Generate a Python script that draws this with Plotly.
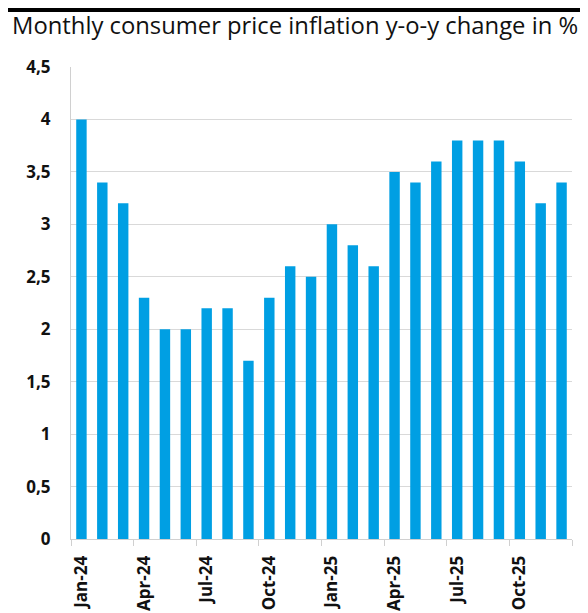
import plotly.graph_objects as go

months = ["Jan-24", "Feb-24", "Mar-24", "Apr-24", "May-24", "Jun-24", "Jul-24", "Aug-24",
          "Sep-24", "Oct-24", "Nov-24", "Dec-24", "Jan-25", "Feb-25", "Mar-25", "Apr-25",
          "May-25", "Jun-25", "Jul-25", "Aug-25", "Sep-25", "Oct-25", "Nov-25", "Dec-25"]
inflation = [4.0, 3.4, 3.2, 2.3, 2.0, 2.0, 2.2, 2.2, 1.7, 2.3, 2.6, 2.5,
             3.0, 2.8, 2.6, 3.5, 3.4, 3.6, 3.8, 3.8, 3.8, 3.6, 3.2, 3.4]

x = list(range(len(months)))
label_idx = x[::3]
label_text = [months[i] for i in label_idx]

W, H = 580, 605
ML, MR, MT, MB = 63, 16, 59, 74
plot_h = H - MT - MB

fig = go.Figure(go.Bar(x=x, y=inflation, marker_color="#009FE3",
                       marker_line_width=0, width=0.5))

fig.update_layout(
    width=W, height=H,
    paper_bgcolor="white", plot_bgcolor="white",
    margin=dict(l=ML, r=MR, t=MT, b=MB, autoexpand=False),
    separators=",.",
    showlegend=False,
    font=dict(family="Open Sans", color="#000000"),
    title=dict(text="Monthly consumer price inflation y-o-y change in %",
               x=4 / W, xanchor="left", y=1 - 18 / H, yanchor="middle",
               automargin=False,
               font=dict(family="Open Sans", size=23.8, color="#111111")),
    shapes=[dict(type="rect", xref="paper", yref="paper", x0=-0.2, x1=1.1,
                 y0=1 + (MT - 4) / plot_h, y1=1 + (MT + 2) / plot_h,
                 fillcolor="black", line_width=0)],
)
fig.update_xaxes(
    range=[-0.5, 23.5], automargin=False,
    tickmode="array", tickvals=label_idx, ticktext=label_text,
    tickangle=-90, ticks="", ticklabelstandoff=9,
    tickfont=dict(family="Open Sans", size=17, color="#111111", weight="bold"),
    showline=True, linecolor="#d0d0d0", linewidth=1,
    showgrid=False, zeroline=False,
    minor=dict(ticks="outside", tick0=-0.5, dtick=3, ticklen=6,
               tickcolor="#d0d0d0", tickwidth=1, showgrid=False),
)
fig.update_yaxes(
    range=[0, 4.5], dtick=0.5, automargin=False,
    showgrid=True, gridcolor="#d9d9d9", gridwidth=1,
    showline=True, linecolor="#d0d0d0", linewidth=1,
    zeroline=False, ticks="", ticklabelstandoff=16,
    tickfont=dict(family="Open Sans", size=17, color="#111111", weight="bold"),
)

fig.write_html("out.html")
